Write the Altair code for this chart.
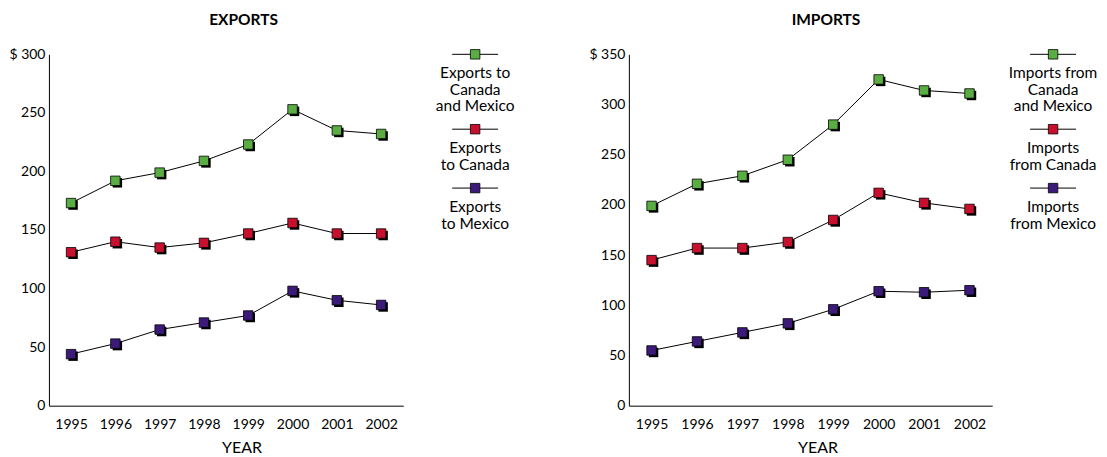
import altair as alt
import pandas as pd

years = [1995, 1996, 1997, 1998, 1999, 2000, 2001, 2002]

exp_total = [173, 192, 199, 209, 223, 253, 235, 232]
exp_canada = [131, 140, 135, 139, 147, 156, 147, 147]
exp_mexico = [44, 53, 65, 71, 77, 98, 90, 86]

imp_total = [199, 221, 229, 245, 280, 325, 314, 311]
imp_canada = [145, 157, 157, 163, 185, 212, 202, 196]
imp_mexico = [55, 64, 73, 82, 96, 114, 113, 115]

exp_series = ["Exports to Canada and Mexico", "Exports to Canada", "Exports to Mexico"]
imp_series = ["Imports from Canada and Mexico", "Imports from Canada", "Imports from Mexico"]

exp_legend_lines = [["Exports to", "Canada", "and Mexico"], ["Exports", "to Canada"], ["Exports", "to Mexico"]]
imp_legend_lines = [["Imports from", "Canada", "and Mexico"], ["Imports", "from Canada"], ["Imports", "from Mexico"]]

colors = ["#5aad43", "#c8102e", "#3b1a7a"]

FONT = "Lato"
H = 352
SYM_Y = [0, 75, 134]          # legend symbol rows (px from plot top)
TEXT_DY = [19, 35.5, 52]      # text line offsets below each symbol


def panel(title, ymax, names, values, legend_lines, plot_w, view_w, title_dx, year_x, leg_x):
    rows = []
    for name, vals in zip(names, values):
        for yr, v in zip(years, vals):
            rows.append({"year": yr, "value": v, "series": name})
    df = pd.DataFrame(rows)

    color = alt.Color("series:N", scale=alt.Scale(domain=names, range=colors), legend=None)
    x = alt.X(
        "year:Q",
        scale=alt.Scale(domain=[1994.5, 2002.5], range=[0, plot_w], nice=False, zero=False),
        axis=alt.Axis(
            values=years, format="d", title="YEAR", ticks=False, tickSize=0, grid=False,
            labelPadding=12, labelFontSize=14, labelFont=FONT, labelColor="black",
            domainColor="black", domainWidth=1,
            titleFontSize=16, titleFont=FONT, titleFontWeight="normal", titleColor="black",
            titleX=year_x, titleY=42, titleBaseline="middle", titleAnchor="start", titleAlign="center",
        ),
    )
    y = alt.Y(
        "value:Q",
        scale=alt.Scale(domain=[0, ymax], nice=False),
        axis=alt.Axis(
            values=list(range(0, ymax + 1, 50)),
            labelExpr=f"datum.value == {ymax} ? '$ {ymax}' : datum.label",
            title=None, ticks=False, tickSize=0, grid=False, labelPadding=4,
            labelFontSize=14, labelFont=FONT, labelColor="black",
            domainColor="black", domainWidth=1, minExtent=40, maxExtent=40,
        ),
    )
    base = alt.Chart(df)
    line = base.mark_line(color="black", strokeWidth=1).encode(x=x, y=y, detail="series:N")
    shadow = base.mark_square(size=90, color="black", opacity=1, xOffset=2, yOffset=2).encode(x=x, y=y)
    square = base.mark_square(size=90, opacity=1, stroke="black", strokeWidth=0.8).encode(x=x, y=y, color=color)
    data_layer = alt.layer(line, shadow, square)

    # legend (drawn as marks in pixel space to the right of the plot)
    sym = pd.DataFrame({
        "series": names,
        "lx": [leg_x] * 3,
        "lx1": [leg_x - 23] * 3,
        "lx2": [leg_x + 23] * 3,
        "ly": SYM_Y,
    })
    trows = []
    for i, lines in enumerate(legend_lines):
        for j, t in enumerate(lines):
            trows.append({"lx": leg_x, "ly": SYM_Y[i] + TEXT_DY[j], "text": t})
    tdf = pd.DataFrame(trows)

    px = alt.Scale(domain=[0, view_w], range=[0, view_w], nice=False, zero=False)
    py = alt.Scale(domain=[0, H], range=[0, H], nice=False, zero=False)
    leg_rule = alt.Chart(sym).mark_rule(color="black", strokeWidth=1).encode(
        x=alt.X("lx1:Q", scale=px, axis=None), x2="lx2:Q", y=alt.Y("ly:Q", scale=py, axis=None))
    leg_sq = alt.Chart(sym).mark_square(size=90, opacity=1, stroke="black", strokeWidth=0.8).encode(
        x=alt.X("lx:Q", scale=px, axis=None), y=alt.Y("ly:Q", scale=py, axis=None), color=color)
    leg_txt = alt.Chart(tdf).mark_text(font=FONT, fontSize=15.5, color="black", align="center", baseline="middle").encode(
        x=alt.X("lx:Q", scale=px, axis=None), y=alt.Y("ly:Q", scale=py, axis=None), text="text:N")
    legend_layer = alt.layer(leg_rule, leg_sq, leg_txt)

    return alt.layer(data_layer, legend_layer).resolve_scale(x="independent", y="independent").properties(
        width=view_w, height=H,
        title=alt.TitleParams(text=title, fontSize=15.5, fontWeight="bold", font=FONT, color="black",
                              anchor="middle", dx=title_dx, offset=19),
    )


left = panel("EXPORTS", 300, exp_series, [exp_total, exp_canada, exp_mexico], exp_legend_lines,
             355, 480, -45, 193, 427)
right = panel("IMPORTS", 350, imp_series, [imp_total, imp_canada, imp_mexico], imp_legend_lines,
              364, 471, -38, 189, 425)

chart = alt.hconcat(left, right, spacing=60).properties(
    padding={"left": 0, "top": 4, "right": 0, "bottom": 0}
).configure_view(stroke=None)

chart.save("out.html", embed_options={"renderer": "svg", "actions": False})
